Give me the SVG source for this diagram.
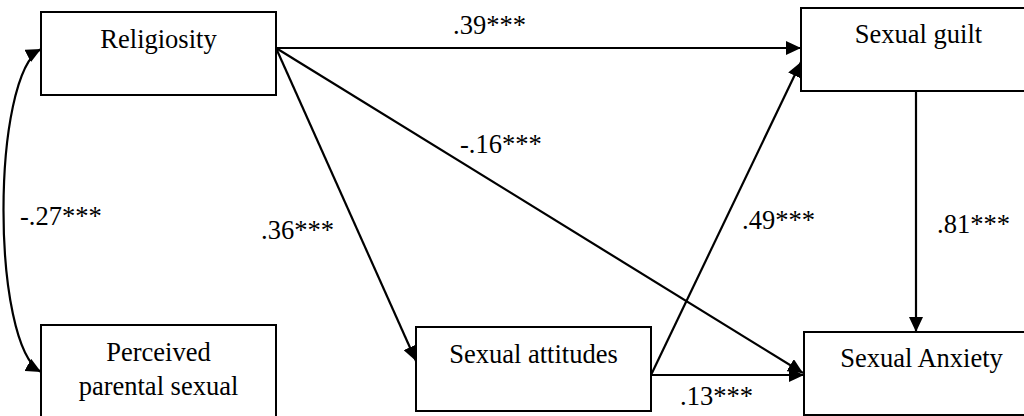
<svg xmlns="http://www.w3.org/2000/svg" width="1024" height="416" viewBox="0 0 1024 416">
<style>
.box{fill:#fff;stroke:#000;stroke-width:2}
.t{font-family:"Liberation Serif","Times New Roman",serif;font-size:26.5px;fill:#000}
.c{text-anchor:middle}
.ln{stroke:#000;stroke-width:2.2;fill:none;marker-end:url(#ah)}
</style>
<defs>
<marker id="ah" viewBox="0 0 15 14" refX="15" refY="7" markerWidth="15" markerHeight="14" markerUnits="userSpaceOnUse" orient="auto-start-reverse">
<path d="M0,0 L15,7 L0,14 z" fill="#000"/>
</marker>
</defs>
<rect width="1024" height="416" fill="#fff"/>
<g id="religiosity">
<rect class="box" x="41" y="12" width="235" height="83"/>
<text class="t c" x="158.5" y="48">Religiosity</text>
</g>
<g id="perceived">
<rect class="box" x="41" y="325" width="235" height="140"/>
<text class="t c" x="158.5" y="361">Perceived</text>
<text class="t c" x="158.5" y="395">parental sexual</text>
</g>
<g id="attitudes">
<rect class="box" x="416" y="327" width="235" height="84"/>
<text class="t c" x="533.5" y="363">Sexual attitudes</text>
</g>
<g id="guilt">
<rect class="box" x="801" y="8" width="235" height="83"/>
<text class="t c" x="918.5" y="43">Sexual guilt</text>
</g>
<g id="anxiety">
<rect class="box" x="804" y="332" width="235" height="83"/>
<text class="t c" x="921.5" y="367">Sexual Anxiety</text>
</g>
<g id="connectors">
<path class="ln" d="M41,49 C-9,75 -9,345 41,372" marker-start="url(#ah)"/>
<path class="ln" d="M276,48 L801,48"/>
<path class="ln" d="M276,48 L803,373"/>
<path class="ln" d="M276,48 L416,361"/>
<path class="ln" d="M651,375 L801,62"/>
<path class="ln" d="M651,375 L804,375"/>
<path class="ln" d="M916,91 L916,332"/>
</g>
<g id="labels">
<text class="t" x="453" y="34">.39***</text>
<text class="t" x="460" y="153">-.16***</text>
<text class="t" x="261" y="239">.36***</text>
<text class="t" x="742" y="229">.49***</text>
<text class="t" x="937" y="233">.81***</text>
<text class="t" x="20" y="225">-.27***</text>
<text class="t" x="680" y="405">.13***</text>
</g>
</svg>
